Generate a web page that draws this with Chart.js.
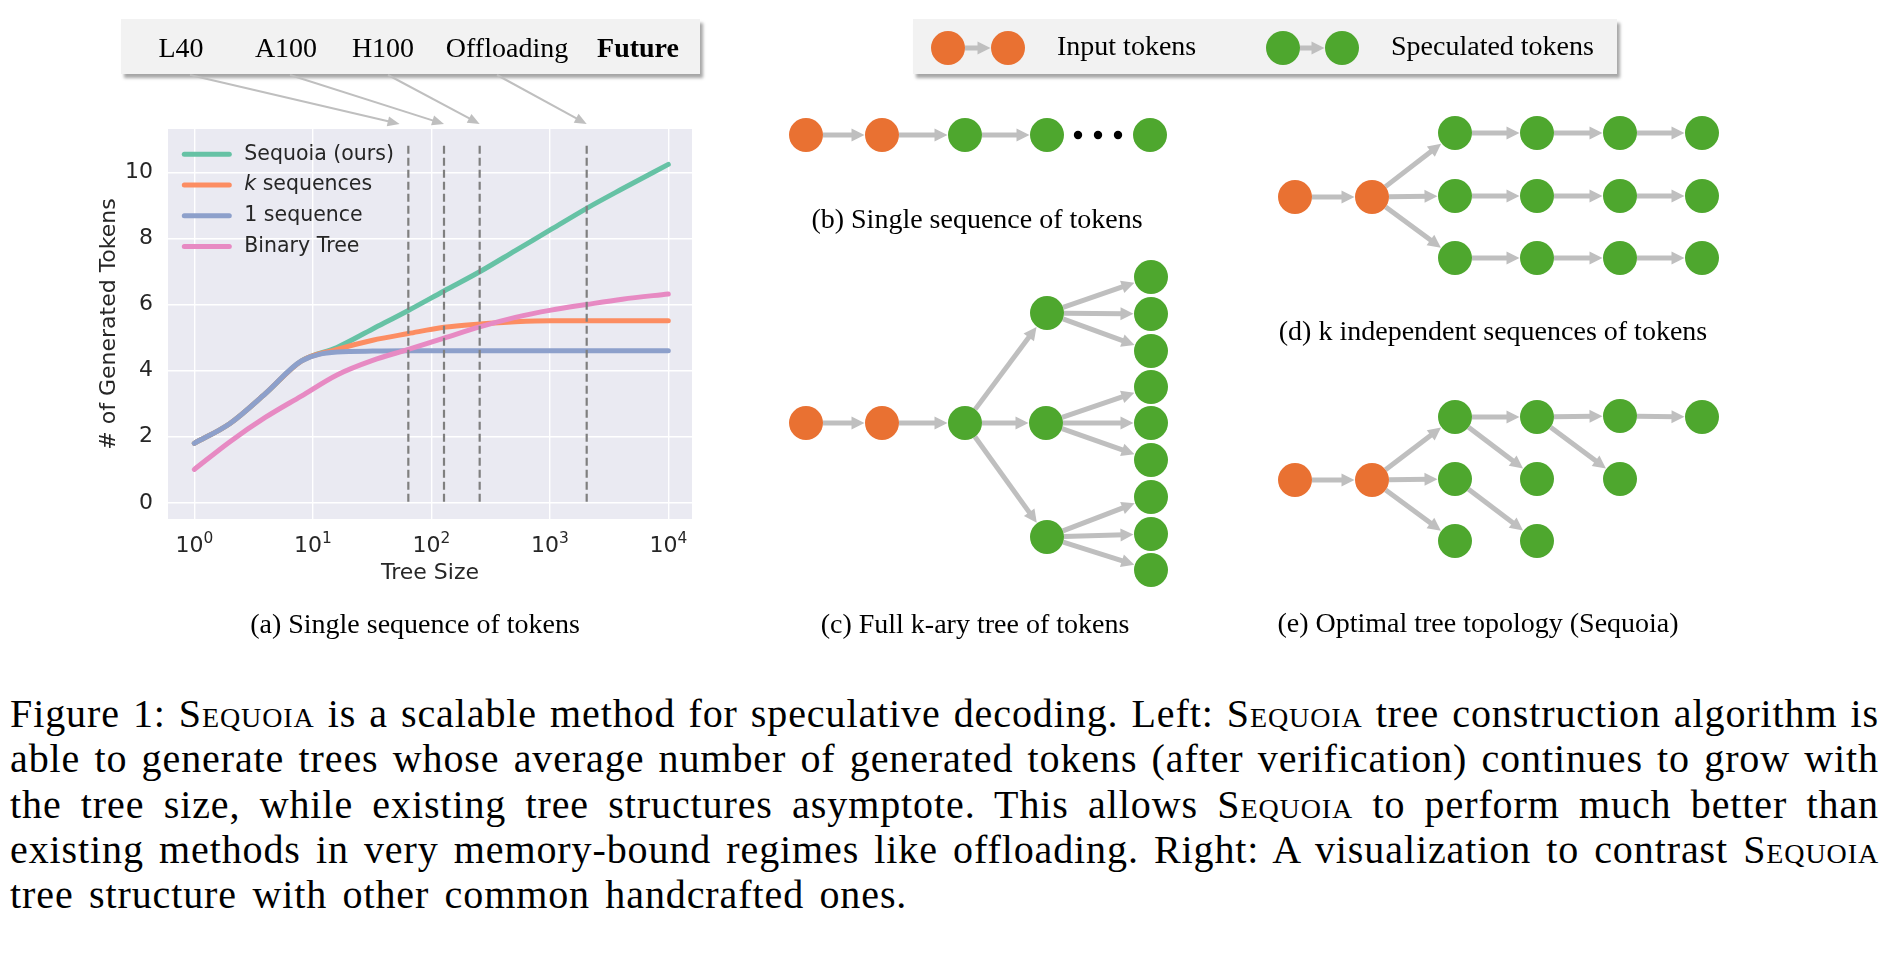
<!DOCTYPE html>
<html><head><meta charset="utf-8">
<script src="https://cdn.jsdelivr.net/npm/chart.js@4.4.0/dist/chart.umd.min.js"></script>
<style>
html,body{margin:0;padding:0;background:#fff;}
body{width:1892px;height:962px;position:relative;overflow:hidden;font-family:"Liberation Serif","Times New Roman",serif;color:#000;}
.box{position:absolute;background:#f2f2f2;box-shadow:3px 4px 3px rgba(0,0,0,0.35);}
.t{position:absolute;white-space:nowrap;font-size:28px;line-height:28px;}
.c{transform:translateX(-50%);}
canvas{position:absolute;}
#figcap{position:absolute;left:10px;top:691px;width:1869px;font-size:40px;line-height:45.25px;letter-spacing:0.9px;}
#figcap div{text-align:justify;text-align-last:justify;height:45.25px;overflow:visible;}
#figcap div.last{text-align:left;text-align-last:left;word-spacing:4.5px;}
.sc{font-variant:small-caps;}
</style>
</head><body>
<div class="box" style="left:121px;top:19px;width:579px;height:55px"></div>
<div class="box" style="left:913px;top:19px;width:704px;height:55px"></div>
<canvas id="plot" width="760" height="680" style="left:0;top:0"></canvas>
<canvas id="diag" width="1132" height="680" style="left:760px;top:0"></canvas>

<div class="t c" style="left:181px;top:34px">L40</div>
<div class="t c" style="left:286px;top:34px">A100</div>
<div class="t c" style="left:383px;top:34px">H100</div>
<div class="t c" style="left:507px;top:34px">Offloading</div>
<div class="t c" style="left:638px;top:34px;font-weight:bold">Future</div>

<div class="t" style="left:1057px;top:31.5px">Input tokens</div>
<div class="t" style="left:1391px;top:31.5px">Speculated tokens</div>

<div class="t c" style="left:415px;top:609.5px">(a) Single sequence of tokens</div>
<div class="t c" style="left:977px;top:204.5px">(b) Single sequence of tokens</div>
<div class="t c" style="left:975px;top:609.5px">(c) Full k-ary tree of tokens</div>
<div class="t c" style="left:1493px;top:316.5px">(d) k independent sequences of tokens</div>
<div class="t c" style="left:1478px;top:608.5px">(e) Optimal tree topology (Sequoia)</div>

<div id="figcap">
<div>Figure 1: <span class="sc">Sequoia</span> is a scalable method for speculative decoding. Left: <span class="sc">Sequoia</span> tree construction algorithm is</div>
<div>able to generate trees whose average number of generated tokens (after verification) continues to grow with</div>
<div>the tree size, while existing tree structures asymptote. This allows <span class="sc">Sequoia</span> to perform much better than</div>
<div>existing methods in very memory-bound regimes like offloading. Right: A visualization to contrast <span class="sc">Sequoia</span></div>
<div class="last">tree structure with other common handcrafted ones.</div>
</div>

<script>
// ---------------- data ----------------
const treeSizes        = [1, 2, 4, 8, 16, 32, 64, 128, 256, 512, 1024, 2048, 4096, 10000];
const sequoiaTokens    = [1.80, 2.40, 3.31, 4.29, 4.70, 5.26, 5.82, 6.41, 6.99, 7.63, 8.27, 8.91, 9.50, 10.24];
const kSeqTokens       = [1.80, 2.40, 3.31, 4.29, 4.64, 4.92, 5.12, 5.31, 5.41, 5.48, 5.51, 5.51, 5.51, 5.51];
const oneSeqTokens     = [1.80, 2.40, 3.31, 4.29, 4.56, 4.59, 4.60, 4.60, 4.60, 4.60, 4.60, 4.60, 4.60, 4.60];
const binaryTreeTokens = [1.01, 1.85, 2.59, 3.23, 3.87, 4.31, 4.64, 4.98, 5.32, 5.61, 5.83, 6.00, 6.16, 6.32];
const seriesNames      = ['Sequoia (ours)', 'k sequences', '1 sequence', 'Binary Tree'];
const seriesColors     = ['#66c2a5', '#fc8d62', '#8da0cb', '#e78ac3'];
const hardwareTreeSizes = [64, 128, 256, 2048];       // dashed guide lines
const arrowTargetSizes  = [54, 128, 256, 2048];       // where annotation arrows point
const vlineTop          = 10.8;
const xTickValues = [1, 10, 100, 1000, 10000];
const xTickLabels = [['10', '0'], ['10', '1'], ['10', '2'], ['10', '3'], ['10', '4']];
const yTickValues = [0, 2, 4, 6, 8, 10];

// ---------------- main plot ----------------
const curveSets = [sequoiaTokens, kSeqTokens, oneSeqTokens, binaryTreeTokens];
const datasets = curveSets.map((vals, i) => ({
  type: 'line',
  label: seriesNames[i],
  data: treeSizes.map((x, j) => ({x: x, y: vals[j]})),
  borderColor: seriesColors[i],
  backgroundColor: seriesColors[i],
  borderWidth: 5,
  borderCapStyle: 'round',
  borderJoinStyle: 'round',
  pointRadius: 0,
  cubicInterpolationMode: 'monotone',
  order: 4 - i,
  isCurve: true
}));
hardwareTreeSizes.forEach(sz => datasets.push({
  type: 'line', label: '', data: [{x: sz, y: vlineTop}, {x: sz, y: 0}],
  borderColor: '#7f7f7f', borderWidth: 2.2, borderDash: [8, 4], pointRadius: 0, order: 0
}));

const bgPlugin = {
  id: 'bg',
  beforeDraw(chart) {
    const {ctx, chartArea: a} = chart;
    ctx.save(); ctx.fillStyle = '#eaeaf2';
    ctx.fillRect(a.left, a.top, a.right - a.left, a.bottom - a.top);
    ctx.restore();
  }
};

const legendPlugin = {
  id: 'innerLegend',
  afterDatasetsDraw(chart) {
    const {ctx, chartArea: a} = chart;
    ctx.save();
    chart.data.datasets.filter(d => d.isCurve).forEach((d, i) => {
      const y = a.top + 25.3 + i * 30.7;
      const x0 = a.left + 16.3;
      ctx.strokeStyle = d.borderColor; ctx.lineWidth = 5; ctx.lineCap = 'round';
      ctx.beginPath(); ctx.moveTo(x0, y); ctx.lineTo(x0 + 45, y); ctx.stroke();
      ctx.fillStyle = '#262626'; ctx.textBaseline = 'middle'; ctx.textAlign = 'left';
      let tx = x0 + 60;
      let label = d.label;
      if (label.startsWith('k ')) {
        ctx.font = 'italic 20.5px "DejaVu Sans"';
        ctx.fillText('k', tx, y);
        tx += ctx.measureText('k').width;
        label = label.slice(1);
      }
      ctx.font = '20.5px "DejaVu Sans"';
      ctx.fillText(label, tx, y);
    });
    ctx.restore();
  }
};

// x tick labels as 10 with a raised exponent (like mathtext)
const xLabelPlugin = {
  id: 'xLabels',
  afterDraw(chart) {
    const {ctx, chartArea: a, scales} = chart;
    ctx.save();
    ctx.fillStyle = '#262626'; ctx.textBaseline = 'alphabetic'; ctx.textAlign = 'left';
    xTickValues.forEach((v, i) => {
      const [base, exp] = xTickLabels[i];
      ctx.font = '22px "DejaVu Sans"';
      const w1 = ctx.measureText(base).width;
      ctx.font = '15.4px "DejaVu Sans"';
      const w2 = ctx.measureText(exp).width;
      const x0 = scales.x.getPixelForValue(v) - (w1 + w2) / 2;
      const yb = a.bottom + 33;
      ctx.font = '22px "DejaVu Sans"';
      ctx.fillText(base, x0, yb);
      ctx.font = '15.4px "DejaVu Sans"';
      ctx.fillText(exp, x0 + w1, yb - 9.5);
    });
    ctx.restore();
  }
};

const annotPlugin = {
  id: 'annot',
  afterDraw(chart) {
    const {ctx, chartArea: a, scales} = chart;
    const starts = [[190, 75], [290, 75], [388, 75], [497, 75]];
    ctx.save();
    ctx.strokeStyle = '#bfbfbf'; ctx.fillStyle = '#bfbfbf'; ctx.lineWidth = 2;
    arrowTargetSizes.forEach((sz, i) => {
      const tx = scales.x.getPixelForValue(sz), ty = a.top - 5;
      const [sx, sy] = starts[i];
      const dx = tx - sx, dy = ty - sy, L = Math.hypot(dx, dy), ux = dx / L, uy = dy / L;
      const hl = 12, hw = 5;
      ctx.beginPath(); ctx.moveTo(sx, sy); ctx.lineTo(tx - ux * hl * 0.8, ty - uy * hl * 0.8); ctx.stroke();
      ctx.beginPath(); ctx.moveTo(tx, ty);
      ctx.lineTo(tx - ux * hl - uy * hw, ty - uy * hl + ux * hw);
      ctx.lineTo(tx - ux * hl + uy * hw, ty - uy * hl - ux * hw);
      ctx.closePath(); ctx.fill();
    });
    ctx.restore();
  }
};

const tickFont = {family: 'DejaVu Sans', size: 22};
new Chart(document.getElementById('plot'), {
  type: 'line',
  data: {datasets: datasets},
  plugins: [bgPlugin, legendPlugin, xLabelPlugin, annotPlugin],
  options: {
    responsive: false, animation: false, devicePixelRatio: 1, events: [],
    layout: {padding: {left: 0, top: 129, right: 68, bottom: 81}, autoPadding: false},
    plugins: {legend: {display: false}, tooltip: {enabled: false}},
    scales: {
      x: {
        type: 'logarithmic', min: Math.pow(10, -0.2), max: Math.pow(10, 4.2),
        afterBuildTicks: s => { s.ticks = xTickValues.map(v => ({value: v})); },
        afterFit: s => { s.height = 80; },
        ticks: {display: false, autoSkip: false, maxRotation: 0},
        grid: {color: '#ffffff', lineWidth: 1.4, drawTicks: false},
        border: {display: false},
        title: {display: true, text: 'Tree Size', font: tickFont, color: '#262626', padding: {top: 0, bottom: 12.3}}
      },
      y: {
        type: 'linear', min: -0.49, max: 11.31,
        afterBuildTicks: s => { s.ticks = yTickValues.map(v => ({value: v})); },
        afterFit: s => { s.width = 168; },
        ticks: {font: tickFont, color: '#262626', padding: 15},
        grid: {color: '#ffffff', lineWidth: 1.4, drawTicks: false},
        border: {display: false},
        title: {display: true, text: '# of Generated Tokens', font: tickFont, color: '#262626', padding: {top: 96.3, bottom: 0}}
      }
    }
  }
});

// ---------------- token diagrams ----------------
const ORANGE = '#e97132', GREEN = '#4ea72e';
// nodes: [x, y, kind]  kind 0 = input token, 1 = speculated token
const legendNodes = [[948, 48, 0], [1008, 48, 0], [1283, 48, 1], [1342, 48, 1]];
const legendEdges = [[0, 1], [2, 3]];
const seqNodes = [[806, 135, 0], [882, 135, 0], [965, 135, 1], [1047, 135, 1], [1150, 135, 1]];
const seqEdges = [[0, 1], [1, 2], [2, 3]];
const seqDots = [[1078, 135], [1098, 135], [1118, 135]];
const karyNodes = [[806, 423, 0], [882, 423, 0], [965, 423, 1],
  [1047, 313, 1], [1046, 423, 1], [1047, 537, 1],
  [1151, 277, 1], [1151, 314, 1], [1151, 351, 1], [1151, 387, 1], [1151, 423, 1],
  [1151, 460, 1], [1151, 497, 1], [1151, 534, 1], [1151, 570, 1]];
const karyEdges = [[0, 1], [1, 2], [2, 3], [2, 4], [2, 5], [3, 6], [3, 7], [3, 8], [4, 9], [4, 10], [4, 11], [5, 12], [5, 13], [5, 14]];
const indepNodes = [[1295, 197, 0], [1372, 197, 0],
  [1455, 133, 1], [1537, 133, 1], [1620, 133, 1], [1702, 133, 1],
  [1455, 196, 1], [1537, 196, 1], [1620, 196, 1], [1702, 196, 1],
  [1455, 258, 1], [1537, 258, 1], [1620, 258, 1], [1702, 258, 1]];
const indepEdges = [[0, 1], [1, 2], [1, 6], [1, 10], [2, 3], [3, 4], [4, 5], [6, 7], [7, 8], [8, 9], [10, 11], [11, 12], [12, 13]];
const optNodes = [[1295, 480, 0], [1372, 480, 0],
  [1455, 417, 1], [1455, 479, 1], [1455, 541, 1],
  [1537, 417, 1], [1537, 479, 1], [1537, 541, 1],
  [1620, 416, 1], [1620, 479, 1], [1702, 417, 1]];
const optEdges = [[0, 1], [1, 2], [1, 3], [1, 4], [2, 5], [2, 6], [3, 7], [5, 8], [5, 9], [8, 10]];
const diagrams = [[legendNodes, legendEdges], [seqNodes, seqEdges], [karyNodes, karyEdges], [indepNodes, indepEdges], [optNodes, optEdges]];

const allNodes = diagrams.flatMap(d => d[0]);
const NODE_R = 17;

const arrowPlugin = {
  id: 'arrows',
  beforeDatasetsDraw(chart) {
    const {ctx, scales} = chart;
    const px = p => [scales.x.getPixelForValue(p[0]), scales.y.getPixelForValue(p[1])];
    ctx.save();
    ctx.strokeStyle = '#bfbfbf'; ctx.fillStyle = '#bfbfbf'; ctx.lineWidth = 5; ctx.lineCap = 'butt';
    diagrams.forEach(([nodes, edges]) => {
      edges.forEach(([a, b]) => {
        const [x1, y1] = px(nodes[a]), [x2, y2] = px(nodes[b]);
        const dx = x2 - x1, dy = y2 - y1, L = Math.hypot(dx, dy), ux = dx / L, uy = dy / L;
        const sx = x1 + ux * NODE_R, sy = y1 + uy * NODE_R;
        const tx = x2 - ux * (NODE_R + 0.5), ty = y2 - uy * (NODE_R + 0.5);
        const hl = 13, hw = 6.5;
        ctx.beginPath(); ctx.moveTo(sx, sy); ctx.lineTo(tx - ux * hl * 0.7, ty - uy * hl * 0.7); ctx.stroke();
        ctx.beginPath(); ctx.moveTo(tx, ty);
        ctx.lineTo(tx - ux * hl - uy * hw, ty - uy * hl + ux * hw);
        ctx.lineTo(tx - ux * hl + uy * hw, ty - uy * hl - ux * hw);
        ctx.closePath(); ctx.fill();
      });
    });
    ctx.restore();
  }
};

new Chart(document.getElementById('diag'), {
  type: 'scatter',
  data: {datasets: [
    {data: allNodes.map(n => ({x: n[0], y: n[1]})),
     pointBackgroundColor: allNodes.map(n => n[2] === 0 ? ORANGE : GREEN),
     pointBorderWidth: 0, pointRadius: NODE_R, clip: false},
    {data: seqDots.map(n => ({x: n[0], y: n[1]})), pointBackgroundColor: '#000', pointBorderWidth: 0, pointRadius: 4.2, clip: false}
  ]},
  plugins: [arrowPlugin],
  options: {
    responsive: false, animation: false, devicePixelRatio: 1, events: [],
    layout: {padding: 0, autoPadding: false},
    plugins: {legend: {display: false}, tooltip: {enabled: false}},
    scales: {
      x: {type: 'linear', min: 760, max: 1892, display: false},
      y: {type: 'linear', min: 0, max: 680, reverse: true, display: false}
    }
  }
});
</script>
</body></html>
